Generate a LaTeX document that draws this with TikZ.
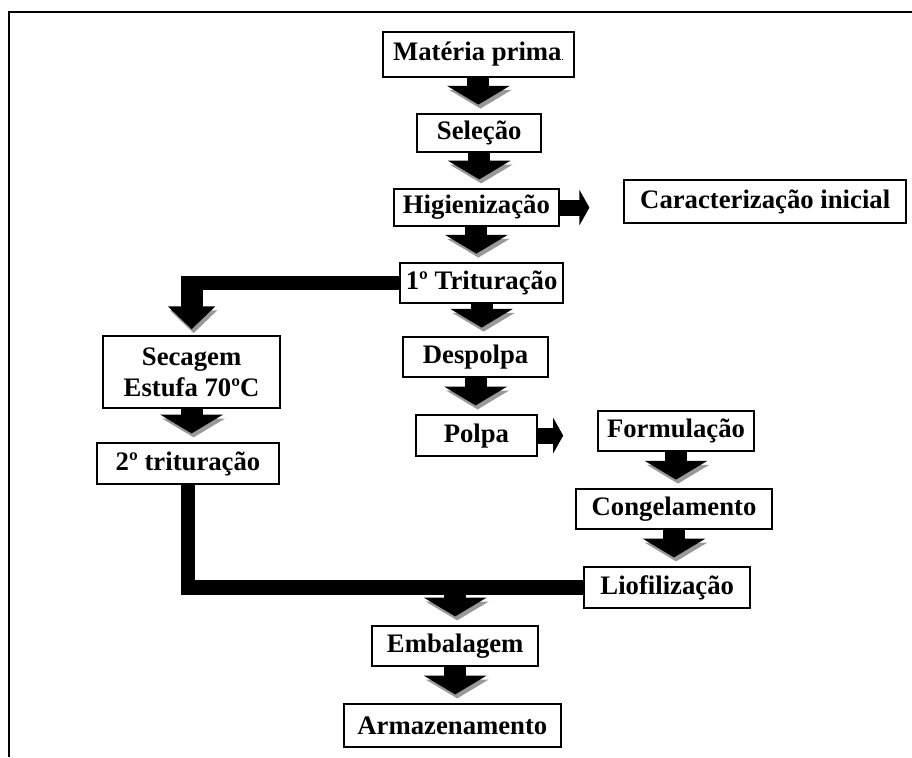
\documentclass[tikz,border=0pt]{standalone}
\usepackage{fontspec}
\setmainfont{Liberation Serif}
\usepackage{tikz}
\usetikzlibrary{arrows.meta,shapes,positioning}
\tikzstyle{box}=[rectangle, draw, line width=0.04cm, inner sep=0pt, align=center, font=\fontsize{19}{22}\selectfont\bfseries]
\tikzstyle{dnarrow}=[line width=0.55cm, -{Triangle[width=1.55cm,length=0.47cm]}, shorten >=0.22cm, preaction={draw=black!40, transform canvas={shift={(0.05,-0.1)}}}]
\tikzstyle{bentarrow}=[line width=0.55cm, -{Triangle[width=1.15cm,length=0.57cm]}, shorten >=0.15cm, preaction={draw=black!40, transform canvas={shift={(0.05,-0.1)}}}]
\tikzstyle{rarrow}=[line width=0.4cm, -{Triangle[width=0.88cm,length=0.25cm]}, shorten >=0.85cm]
\tikzstyle{hbar}=[line width=0.35cm]

\begin{document}
\begin{tikzpicture}
\useasboundingbox (0,0) rectangle (22.8,-18.925);
%frame
\draw[line width=0.065cm] (0.225,-18.925) -- (0.225,-0.3) -- (22.8,-0.3);

%Main column
\node[box, minimum width=4.78cm, minimum height=1.12cm] (mp) at (11.96,-1.36){Matéria prima{\fontsize{6}{6}\selectfont.}};
\node[box, minimum width=3.1cm, minimum height=0.95cm] (sel) at (11.98,-3.33){Seleção};
\node[box, minimum width=4.13cm, minimum height=0.93cm] (hig) at (11.91,-5.19){Higienização};
\node[box, minimum width=7.05cm, minimum height=1.08cm] (car) at (19.13,-5.04){Caracterização inicial};
\node[box, minimum width=4.08cm, minimum height=1.0cm] (tri) at (12.04,-7.08){1º Trituração};
\node[box, minimum width=3.63cm, minimum height=1.0cm] (desp) at (11.89,-8.93){Despolpa};
\node[box, minimum width=3.03cm, minimum height=1.03cm] (polpa) at (11.91,-10.89){Polpa};
%Left column
\node[box, minimum width=4.43cm, minimum height=1.8cm] (sec) at (4.79,-9.3){Secagem\\Estufa 70ºC};
\node[box, minimum width=4.55cm, minimum height=1.03cm] (tri2) at (4.7,-11.59){2º trituração};
%Right column
\node[box, minimum width=3.9cm, minimum height=1.0cm] (form) at (16.9,-10.78){Formulação};
\node[box, minimum width=4.9cm, minimum height=1.0cm] (cong) at (16.85,-12.73){Congelamento};
\node[box, minimum width=4.15cm, minimum height=1.03cm] (lio) at (16.68,-14.69){Liofilização};
%Bottom
\node[box, minimum width=4.15cm, minimum height=1.0cm] (emb) at (11.38,-16.15){Embalagem};
\node[box, minimum width=5.43cm, minimum height=1.08cm] (arm) at (11.31,-18.14){Armazenamento};

%Arrows
\draw[dnarrow] (mp.south) -- (mp.south |- sel.north);
\draw[dnarrow] (sel.south) -- (sel.south |- hig.north);
\draw[dnarrow] (hig.south) -- (hig.south |- tri.north);
\draw[dnarrow] (tri.south) -- (tri.south |- desp.north);
\draw[dnarrow] (desp.south) -- (desp.south |- polpa.north);
\draw[rarrow] (hig.east) -- (hig.east -| car.west);
\draw[rarrow] (polpa.east) -- (polpa.east -| form.west);
\draw[dnarrow] (form.south) -- (form.south |- cong.north);
\draw[dnarrow] (cong.south) -- (cong.south |- lio.north);
\draw[dnarrow] (sec.south) -- (sec.south |- tri2.north);

%bent arrow to Secagem
\coordinate (c1) at (tri.west -| sec.north);
\draw[hbar] (tri.west) -- ([xshift=-0.275cm]c1);
\draw[bentarrow] ([yshift=0.175cm]c1) -- (sec.north);

%joining line
\draw[line width=0.36cm] (tri2.south) |- (lio.west);
\coordinate (j) at (emb.north |- lio.west);
\draw[dnarrow] (j) -- (emb.north);
\draw[dnarrow] (emb.south) -- (emb.south |- arm.north);
\end{tikzpicture}
\end{document}
